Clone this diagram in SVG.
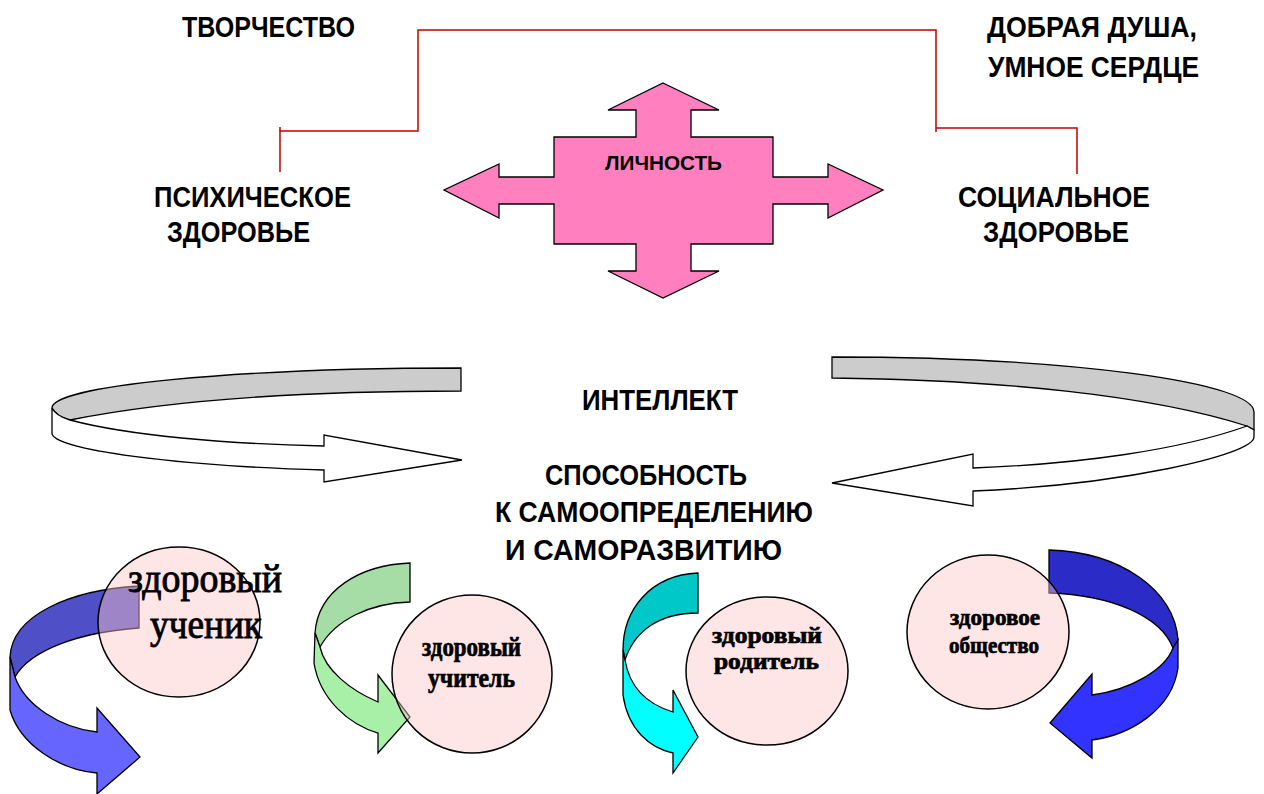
<svg xmlns="http://www.w3.org/2000/svg" width="1264" height="794" viewBox="0 0 1264 794">
<style>
.lbl{font-family:"Liberation Sans","Open Sans",Arial,sans-serif;font-weight:bold;font-size:29px;fill:#000}
.sm{font-size:21px}
.ser{font-family:"Liberation Serif","Times New Roman",serif;font-weight:bold;fill:#000;stroke:#000;stroke-width:0.7}
.red{fill:none;stroke:#C00000;stroke-width:1.5}
.ol{stroke:#000;stroke-width:1.3;stroke-linejoin:miter}
.circ{fill:#FFC8C8;fill-opacity:0.45;stroke:#000;stroke-width:1.5}
</style>
<rect width="1264" height="794" fill="#fff"/>

<g id="connectors">
  <polyline class="red" points="280,172 280,131 418,131 418,30 936,30 936,132"/>
  <line class="red" x1="280" y1="127" x2="280" y2="131"/>
  <polyline class="red" points="936,128 1077,128 1077,174"/>
</g>

<g id="lichnost">
  <polygon class="ol" fill="#FF7FBF" points="663,83 719,110 691,110 691,137 773,137 773,177 828,177 828,164 883,190 828,218 828,204 773,204 773,244 691,244 691,271 719,271 663,298 608,271 636,271 636,244 554,244 554,204 499,204 499,218 444,190 499,164 499,177 554,177 554,137 636,137 636,110 608,110"/>
  <text class="lbl sm" x="605" y="170" textLength="117" lengthAdjust="spacingAndGlyphs">ЛИЧНОСТЬ</text>
</g>

<g id="tvorchestvo"><text class="lbl" x="182" y="37" textLength="173" lengthAdjust="spacingAndGlyphs">ТВОРЧЕСТВО</text></g>
<g id="dobraya">
  <text class="lbl" x="987" y="37" textLength="210" lengthAdjust="spacingAndGlyphs">ДОБРАЯ ДУША,</text>
  <text class="lbl" x="988" y="77" textLength="211" lengthAdjust="spacingAndGlyphs">УМНОЕ СЕРДЦЕ</text>
</g>
<g id="psih">
  <text class="lbl" x="154" y="207" textLength="197" lengthAdjust="spacingAndGlyphs">ПСИХИЧЕСКОЕ</text>
  <text class="lbl" x="167" y="242" textLength="143" lengthAdjust="spacingAndGlyphs">ЗДОРОВЬЕ</text>
</g>
<g id="social">
  <text class="lbl" x="958" y="207" textLength="192" lengthAdjust="spacingAndGlyphs">СОЦИАЛЬНОЕ</text>
  <text class="lbl" x="983" y="242" textLength="146" lengthAdjust="spacingAndGlyphs">ЗДОРОВЬЕ</text>
</g>

<g id="ring-left">
  <path class="ol" fill="#CCCCCC" d="M461,368 A409,40 0 0 0 52,408 Q56,416 70,420 C180,398 320,391 461,391 Z"/>
  <path class="ol" fill="#FFFFFF" d="M52,408 L52,433 C52,450 180,466 324,470 L324,482 L462,460 L324,435 L324,446 C230,444 130,436 70,420 Q56,416 52,408 Z"/>
</g>
<g id="ring-right">
  <path class="ol" fill="#CCCCCC" d="M832,357 A422,55 0 0 1 1254,412 L1254,430 L1247,426 C1150,395 1000,380 832,378 Z"/>
  <path class="ol" fill="#FFFFFF" d="M1247,426 L1254,430 L1254,437 C1254,455 1120,485 973,491 L973,506 L832,483 L973,454 L973,468 C1080,464 1180,450 1247,426 Z"/>
</g>

<g id="intellekt"><text class="lbl" x="582" y="410" textLength="156" lengthAdjust="spacingAndGlyphs">ИНТЕЛЛЕКТ</text></g>
<g id="sposobnost">
  <text class="lbl" x="545" y="485" textLength="202" lengthAdjust="spacingAndGlyphs">СПОСОБНОСТЬ</text>
  <text class="lbl" x="495" y="522" textLength="318" lengthAdjust="spacingAndGlyphs">К САМООПРЕДЕЛЕНИЮ</text>
  <text class="lbl" x="505" y="560" textLength="277" lengthAdjust="spacingAndGlyphs">И САМОРАЗВИТИЮ</text>
</g>

<g id="uchenik">
  <path class="ol" fill="#4F4FC8" d="M139,586 C70,590 12,615 10,657 L15,677 C30,650 80,632 139,628 Z"/>
  <path class="ol" fill="#6666FF" d="M10,657 L10,710 C20,745 60,770 97,773 L97,794 L140,757 L97,708 L97,732 C60,728 25,705 15,677 Z"/>
  <ellipse class="circ" cx="179" cy="622" rx="81" ry="75"/>
  <text class="ser" x="128" y="592" font-size="40" textLength="154" lengthAdjust="spacingAndGlyphs" style="font-weight:normal;stroke-width:0.9">здоровый</text>
  <text class="ser" x="150" y="638" font-size="40" textLength="112" lengthAdjust="spacingAndGlyphs" style="font-weight:normal;stroke-width:0.9">ученик</text>
</g>

<g id="uchitel">
  <path class="ol" fill="#A6DCA6" d="M410,563 C360,565 318,590 315,633 L320,647 C335,620 370,603 410,602 Z"/>
  <path class="ol" fill="#A8F0A8" d="M315,633 L314,663 C320,700 350,725 378,733 L378,753 L410,717 L378,675 L378,702 C350,690 325,670 320,647 Z"/>
  <ellipse class="circ" cx="472" cy="674" rx="80" ry="79"/>
  <text class="ser" x="422" y="656" font-size="27" textLength="99" lengthAdjust="spacingAndGlyphs">здоровый</text>
  <text class="ser" x="428" y="687" font-size="27" textLength="87" lengthAdjust="spacingAndGlyphs">учитель</text>
</g>

<g id="roditel">
  <path class="ol" fill="#00C8C8" d="M698,573 C650,575 623,610 623,650 L625,660 C635,630 660,613 698,613 Z"/>
  <path class="ol" fill="#00FFFF" d="M623,650 L623,695 C628,730 650,748 673,753 L673,773 L698,737 L673,690 L673,712 C650,705 630,690 625,660 Z"/>
  <ellipse class="circ" cx="767" cy="671" rx="81" ry="74"/>
  <text class="ser" x="712" y="643" font-size="23" textLength="110" lengthAdjust="spacingAndGlyphs">здоровый</text>
  <text class="ser" x="714" y="669" font-size="23" textLength="105" lengthAdjust="spacingAndGlyphs">родитель</text>
</g>

<g id="obshchestvo">
  <path class="ol" fill="#2B2BC8" d="M1049,550 C1120,552 1175,590 1178,640 L1173,648 C1160,615 1110,595 1049,593 Z"/>
  <path class="ol" fill="#3333FF" d="M1178,640 L1178,668 C1172,710 1130,735 1092,740 L1092,758 L1050,723 L1092,674 L1092,695 C1130,690 1165,670 1173,648 Z"/>
  <ellipse class="circ" cx="988" cy="632" rx="81" ry="77"/>
  <text class="ser" x="950" y="625" font-size="24" textLength="90" lengthAdjust="spacingAndGlyphs">здоровое</text>
  <text class="ser" x="949" y="653" font-size="24" textLength="90" lengthAdjust="spacingAndGlyphs">общество</text>
</g>
</svg>
